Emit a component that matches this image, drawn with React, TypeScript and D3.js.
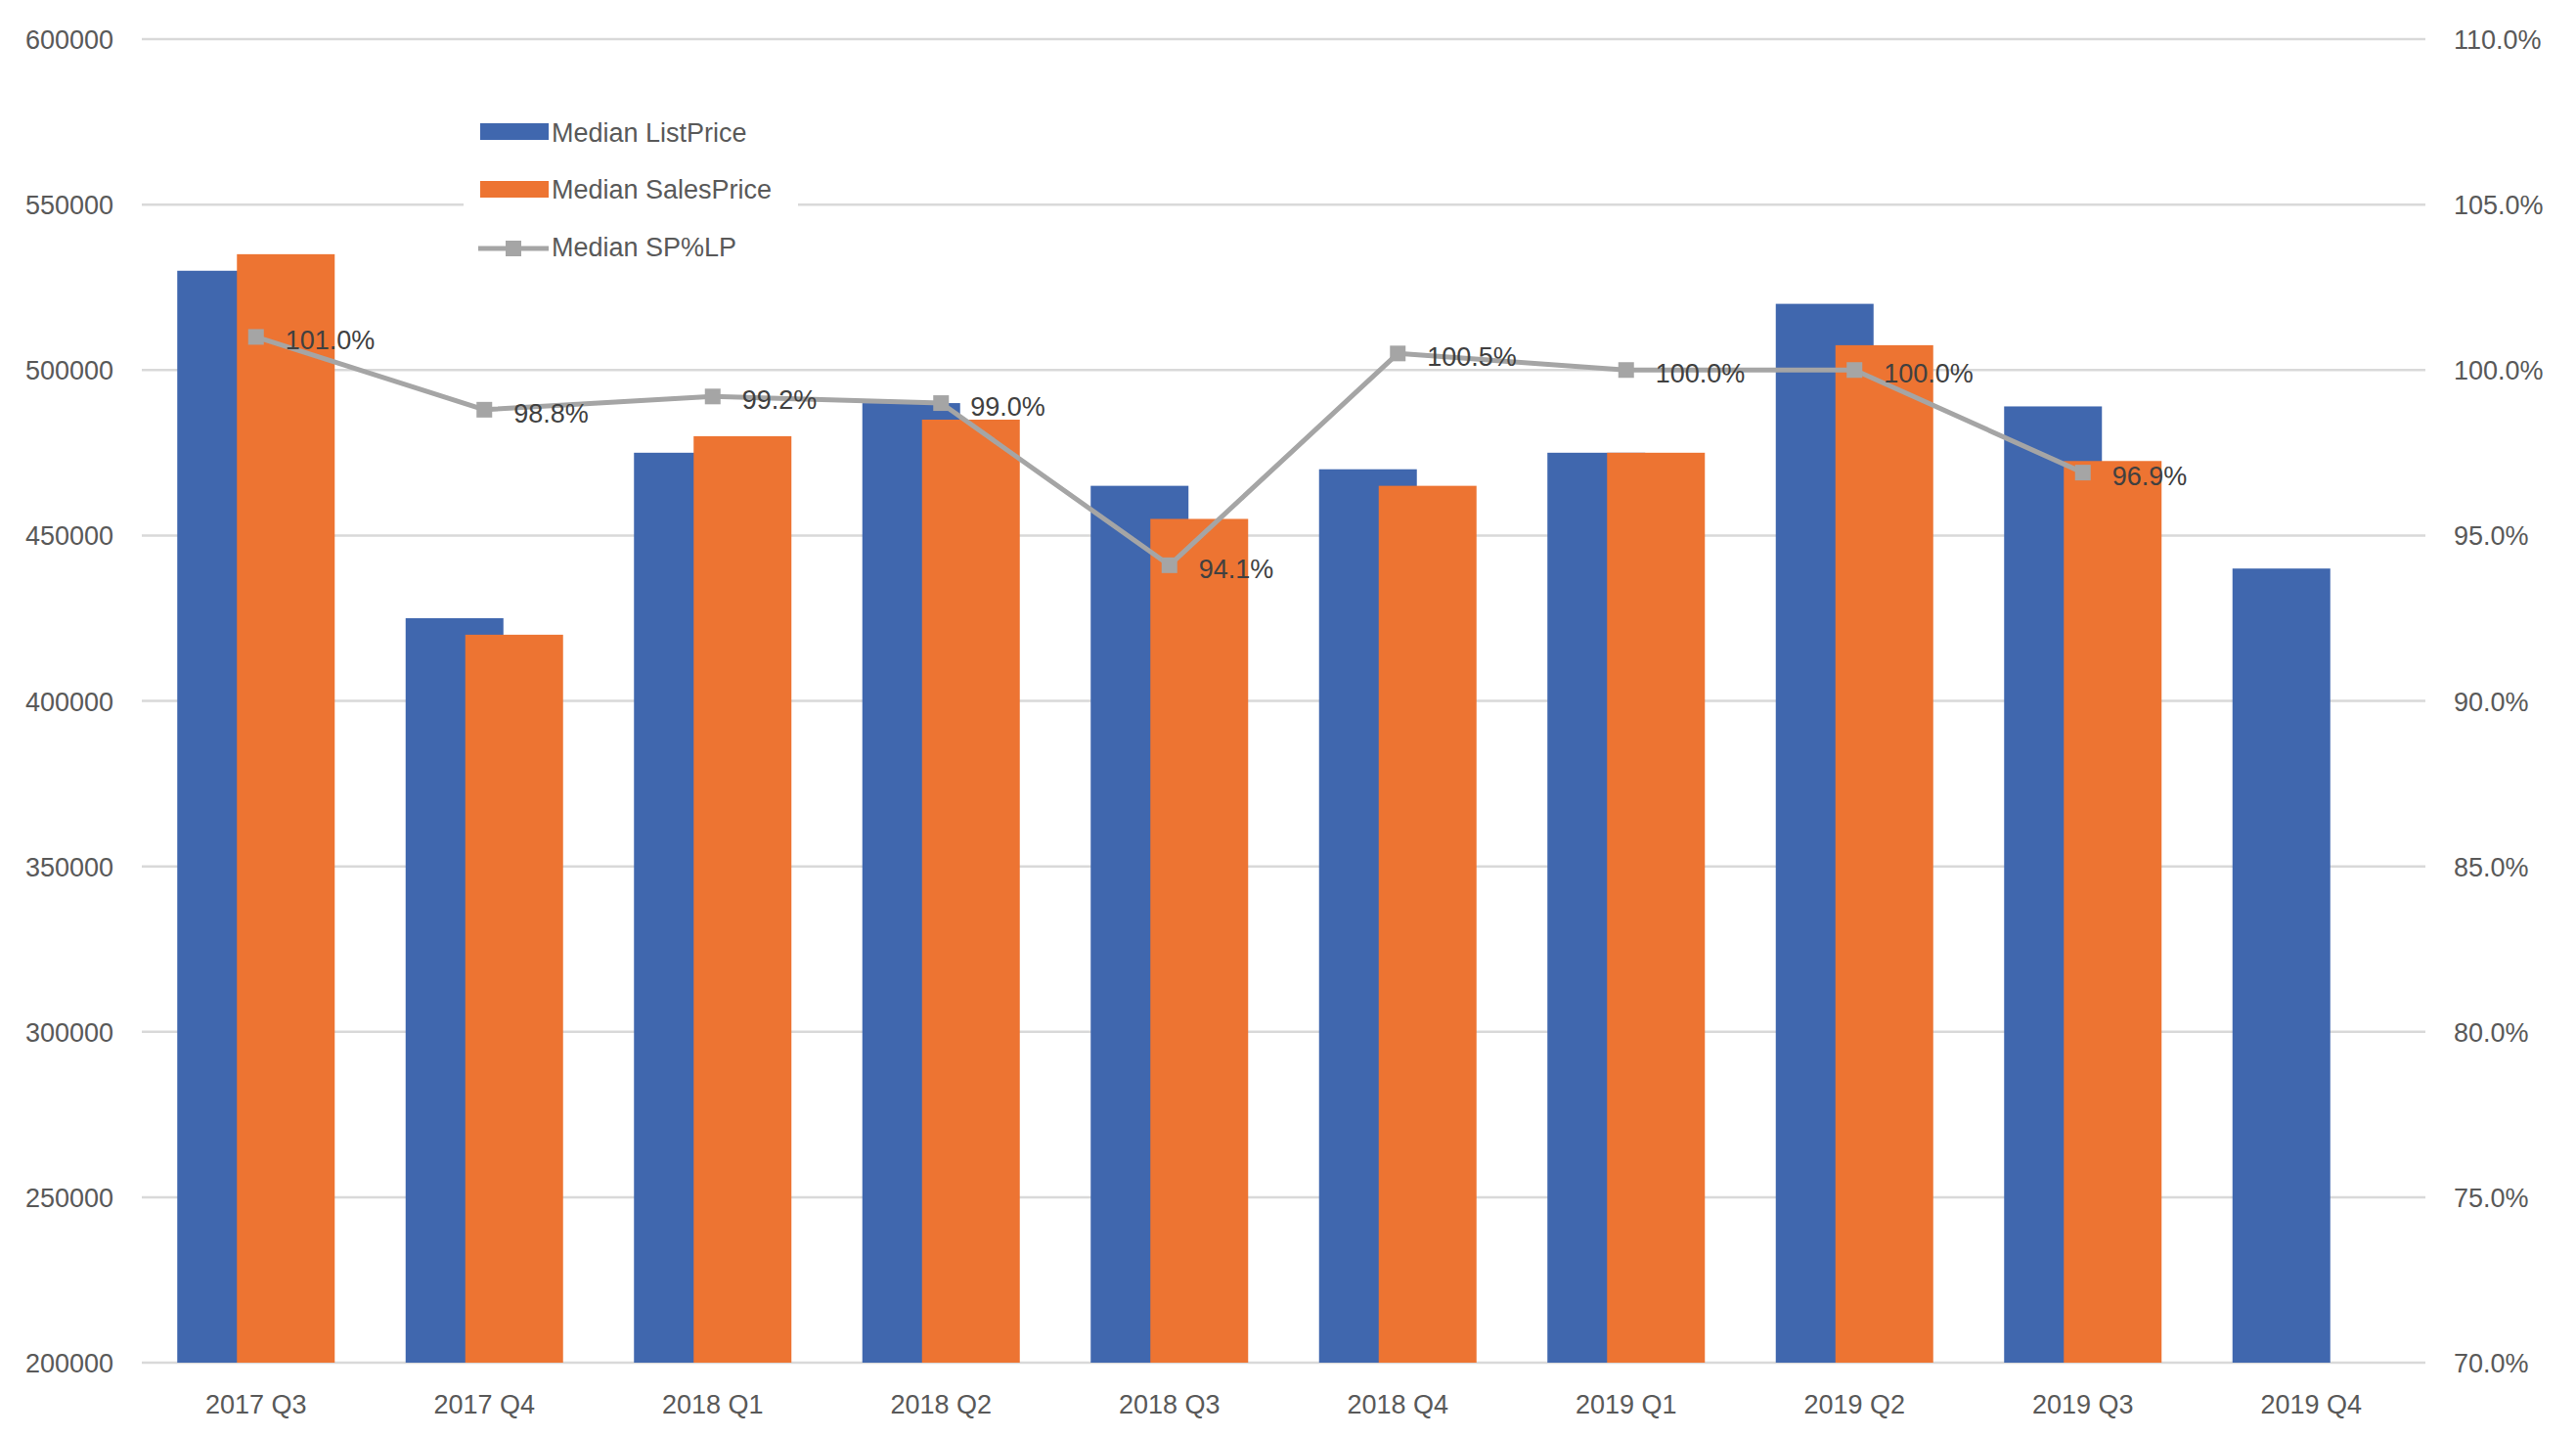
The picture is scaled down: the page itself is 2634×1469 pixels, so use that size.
import React from "react";
import * as d3 from "d3";

const categories = ["2017 Q3", "2017 Q4", "2018 Q1", "2018 Q2", "2018 Q3", "2018 Q4", "2019 Q1", "2019 Q2", "2019 Q3", "2019 Q4"];
const listPrice = [530000, 425000, 475000, 490000, 465000, 470000, 475000, 520000, 489000, 440000];
const salesPrice: (number | null)[] = [535000, 420000, 480000, 485000, 455000, 465000, 475000, 507500, 472500, null];
const spPct: (number | null)[] = [101.0, 98.8, 99.2, 99.0, 94.1, 100.5, 100.0, 100.0, 96.9, null];
const leftTicks = [200000, 250000, 300000, 350000, 400000, 450000, 500000, 550000, 600000];
const rightTicks = [70, 75, 80, 85, 90, 95, 100, 105, 110];
const seriesNames = ["Median ListPrice", "Median SalesPrice", "Median SP%LP"];

const W = 2634;
const H = 1469;
const BLUE = "#4067AE";
const ORANGE = "#ED7432";
const GRAY = "#A5A5A5";
const FONT = "'Liberation Sans', Arial, sans-serif";

export default function App() {
  const x = d3.scaleBand<string>().domain(categories).range([145, 2480]).padding(0);
  const yL = d3.scaleLinear().domain([200000, 600000]).range([1393, 40]);
  const yR = d3.scaleLinear().domain([70, 110]).range([1393, 40]);
  const barW = 100;
  const cx = (c: string) => (x(c) as number) + x.bandwidth() / 2;

  const lineGen = d3
    .line<number | null>()
    .defined((d) => d != null)
    .x((_, i) => cx(categories[i]))
    .y((d) => yR(d as number));

  return (
    <svg width={W} height={H} style={{ position: "absolute", left: 0, top: 0, background: "#fff" }}>
      {/* gridlines */}
      {leftTicks.map((t) => (
        <line key={"g" + t} x1={145} x2={2480} y1={yL(t)} y2={yL(t)} stroke="#D9D9D9" strokeWidth={2.5} />
      ))}
      {/* left axis labels */}
      {leftTicks.map((t) => (
        <text key={"l" + t} x={116} y={yL(t) + 10} textAnchor="end" fontFamily={FONT} fontSize={27} fill="#595959">
          {t}
        </text>
      ))}
      {/* right axis labels */}
      {rightTicks.map((t) => (
        <text key={"r" + t} x={2509} y={yR(t) + 10} textAnchor="start" fontFamily={FONT} fontSize={27} fill="#595959">
          {t.toFixed(1) + "%"}
        </text>
      ))}
      {/* category labels */}
      {categories.map((c) => (
        <text key={"c" + c} x={cx(c)} y={1445} textAnchor="middle" fontFamily={FONT} fontSize={27} fill="#595959">
          {c}
        </text>
      ))}
      {/* bars */}
      {categories.map((c, i) => (
        <rect key={"b" + c} x={cx(c) - 80.5} y={yL(listPrice[i])} width={barW} height={yL(200000) - yL(listPrice[i])} fill={BLUE} />
      ))}
      {categories.map((c, i) =>
        salesPrice[i] == null ? null : (
          <rect
            key={"o" + c}
            x={cx(c) - 19.5}
            y={yL(salesPrice[i] as number)}
            width={barW}
            height={yL(200000) - yL(salesPrice[i] as number)}
            fill={ORANGE}
          />
        )
      )}
      {/* legend background */}
      <rect x={474} y={100} width={342} height={180} fill="#fff" />
      {/* line */}
      <path d={lineGen(spPct) || ""} fill="none" stroke={GRAY} strokeWidth={5} strokeLinejoin="round" />
      {spPct.map((v, i) =>
        v == null ? null : (
          <g key={"m" + i}>
            <rect x={cx(categories[i]) - 8} y={yR(v) - 8} width={16} height={16} fill={GRAY} />
            <text x={cx(categories[i]) + 30} y={yR(v) + 13} fontFamily={FONT} fontSize={27} fill="#404040">
              {v.toFixed(1) + "%"}
            </text>
          </g>
        )
      )}
      {/* legend */}
      <rect x={491} y={126} width={70} height={17} fill={BLUE} />
      <text x={564} y={145} fontFamily={FONT} fontSize={27} fill="#595959">{seriesNames[0]}</text>
      <rect x={491} y={185} width={70} height={17} fill={ORANGE} />
      <text x={564} y={203} fontFamily={FONT} fontSize={27} fill="#595959">{seriesNames[1]}</text>
      <line x1={489} x2={561} y1={254} y2={254} stroke={GRAY} strokeWidth={5} />
      <rect x={517} y={246} width={16} height={16} fill={GRAY} />
      <text x={564} y={262} fontFamily={FONT} fontSize={27} fill="#595959">{seriesNames[2]}</text>
    </svg>
  );
}
